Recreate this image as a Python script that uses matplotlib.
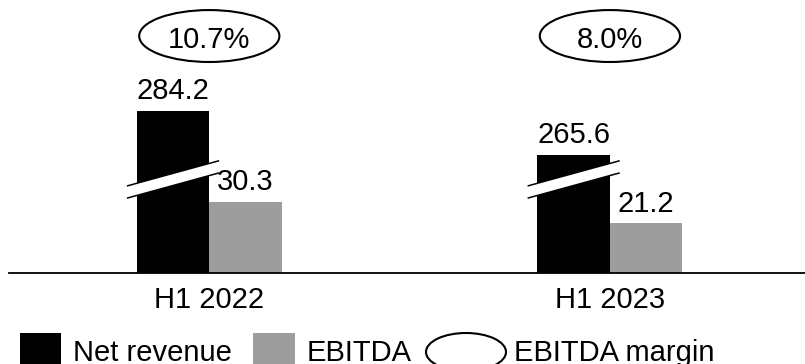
import numpy as np
import matplotlib
matplotlib.use("Agg")
import matplotlib.pyplot as plt
from matplotlib.patches import Ellipse, Rectangle, Polygon

plt.rcParams["font.family"] = ["Liberation Sans", "DejaVu Sans"]

# ---- data -------------------------------------------------------------
categories = ["H1 2022", "H1 2023"]
net_revenue = [284.2, 265.6]      # shown with a broken bar
ebitda = [30.3, 21.2]
ebitda_margin = [10.7, 8.0]       # percent
legend_labels = ["Net revenue", "EBITDA", "EBITDA margin"]

# portion of the revenue bars cut out by the axis break
AXIS_BREAK = 215.0

BLACK = "#000000"
GREY = "#9d9d9d"
FS = 21

W, H = 805, 364
fig = plt.figure(figsize=(W / 100, H / 100), dpi=100)
ax = fig.add_axes([9 / W, 91 / H, 796 / W, 273 / H])
ax.set_xlim(-0.5, 1.487)
ax.set_ylim(0, 116.7)
for side in ("top", "left", "right"):
    ax.spines[side].set_visible(False)
ax.spines["bottom"].set_linewidth(1.3)
ax.spines["bottom"].set_color(BLACK)
ax.set_xticks([])
ax.set_yticks([])

x = np.arange(len(categories))
bw = 0.181
rev_shown = np.array(net_revenue) - AXIS_BREAK

ax.bar(x - bw / 2, rev_shown, bw, color=BLACK, zorder=2)
ax.bar(x + bw / 2, ebitda, bw, color=GREY, zorder=2)

# value labels
for xi, h, v in zip(x - bw / 2, rev_shown, net_revenue):
    ax.annotate(f"{v:.1f}", xy=(xi, h), xytext=(0, 8.4), textcoords="offset points",
                ha="center", va="baseline", fontsize=FS)
for xi, v in zip(x + bw / 2, ebitda):
    ax.annotate(f"{v:.1f}", xy=(xi, v), xytext=(0, 8.4), textcoords="offset points",
                ha="center", va="baseline", fontsize=FS)

# axis-break marks on the revenue bars
yc, half_rise, half_thick, half_w = 40.0, 5.4, 2.6, 0.115
for xc in x - bw / 2:
    xl, xr = xc - half_w, xc + half_w
    band = Polygon([(xl, yc - half_rise - half_thick), (xr, yc + half_rise - half_thick),
                    (xr, yc + half_rise + half_thick), (xl, yc - half_rise + half_thick)],
                   closed=True, facecolor="white", edgecolor="none", zorder=3)
    ax.add_patch(band)
    for s in (-1, 1):
        ax.plot([xl, xr], [yc - half_rise + s * half_thick, yc + half_rise + s * half_thick],
                color=BLACK, lw=1.1, zorder=4, solid_capstyle="butt")

# margin bubbles
for xi, m in zip(x, ebitda_margin):
    ax.add_patch(Ellipse((xi, 101.3), 0.35, 22.2, facecolor="white",
                         edgecolor=BLACK, lw=1.5, zorder=3))
    ax.text(xi, 96.2, f"{m:.1f}%", ha="center", va="baseline", fontsize=FS, zorder=4)

# category labels
for xi, c in zip(x, categories):
    ax.annotate(c, xy=(xi, 0), xytext=(0, -25.2), textcoords="offset points",
                ha="center", va="baseline", fontsize=FS, annotation_clip=False)

# legend row
def fx(px):
    return px / W

def fy(py):
    return (H - py) / H

fig.add_artist(Rectangle((fx(20), fy(367)), 41 / W, 34 / H, transform=fig.transFigure,
                         facecolor=BLACK, edgecolor="none"))
fig.text(fx(73), fy(361), legend_labels[0], ha="left", va="baseline", fontsize=FS)
fig.add_artist(Rectangle((fx(253), fy(367)), 42 / W, 34 / H, transform=fig.transFigure,
                         facecolor=GREY, edgecolor="none"))
fig.text(fx(307), fy(361), legend_labels[1], ha="left", va="baseline", fontsize=FS)
fig.add_artist(Ellipse((fx(466), fy(352)), 80 / W, 38 / H, transform=fig.transFigure,
                       facecolor="white", edgecolor=BLACK, lw=1.5))
fig.text(fx(514), fy(361), legend_labels[2], ha="left", va="baseline", fontsize=FS)

fig.savefig("out.png", dpi=100)
